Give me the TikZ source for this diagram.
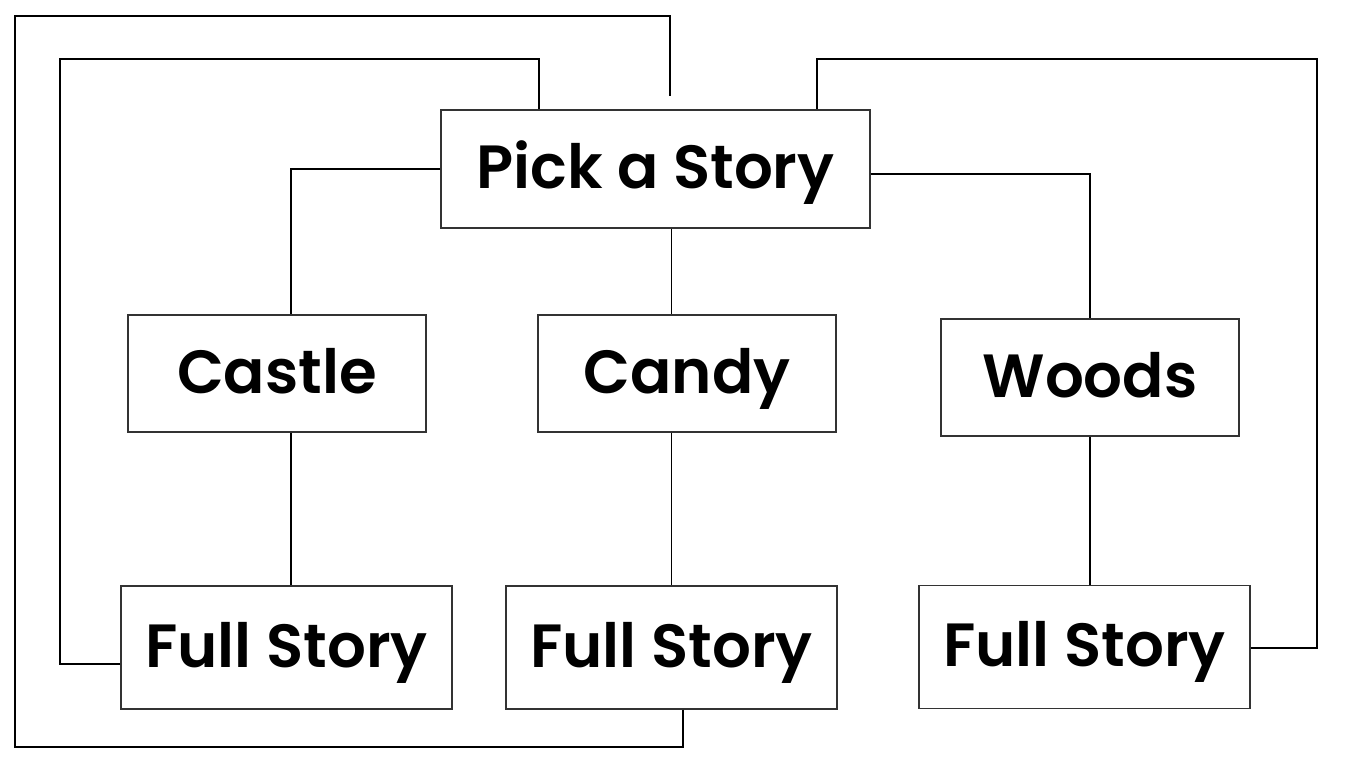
\documentclass[tikz,border=0pt]{standalone}
\usepackage{fontspec}
\setmainfont{Poppins}[BoldFont={Poppins SemiBold}]
\usepackage{tikz}
\usetikzlibrary{positioning}

\begin{document}
\begin{tikzpicture}[x=1pt, y=-1pt,
                    box/.style={rectangle, draw=black!80, line width=1.3pt, inner sep=0pt,
                                text height=39pt, text depth=0pt,
                                font=\fontsize{61}{72}\selectfont\bfseries},
                    small/.style={box, minimum width=298pt, minimum height=117pt},
                    story/.style={box, minimum width=331pt, minimum height=123pt},
                    link/.style={draw=black, line width=1.4pt}]
\useasboundingbox (0,0) rectangle (1366,768);
\node (pick) [box, minimum width=429pt, minimum height=118pt] at (655.5,169) {Pick a Story};
\node (castle) [small] at (277,373.5) {Castle};
\node (candy) [small] at (687,373.5) {Candy};
\node (woods) [small] at (1090,377.5) {Woods};
\node (full1) [story] at (286.5,647.5) {Full Story};
\node (full2) [story] at (671.5,647.5) {Full Story};
\node (full3) [story] at (1084.5,647) {Full Story};
% tree
\draw [link] (pick.west) -| ([xshift=14pt]castle.north);
\draw [link] (pick.south -| full2.north) -- (candy.north -| full2.north);
\draw [link] ([yshift=-5pt]pick.east) -| (woods.north);
\draw [link] ([xshift=14pt]castle.south) -- ([xshift=14pt]castle.south |- full1.north);
\draw [link] (candy.south -| full2.north) -- (full2.north);
\draw [link] (woods.south) -- (woods.south |- full3.north);
% back to the start
\coordinate (leftturn) at (60,59);
\coordinate (rightturn) at (1317,59);
\coordinate (lowturn) at (15,747);
\coordinate (highturn) at (15,16);
\coordinate (loose) at (670,96);
\draw [link] ([yshift=-16.5pt]full1.west) -| (leftturn) -| ([xshift=-116.5pt]pick.north);
\draw [link] ([yshift=-1pt]full3.east) -| (rightturn) -| ([xshift=161.5pt]pick.north);
\draw [link, line width=1.8pt] ([xshift=11.5pt]full2.south) |- (lowturn) -- (highturn) -| (loose);
\end{tikzpicture}
\end{document}
